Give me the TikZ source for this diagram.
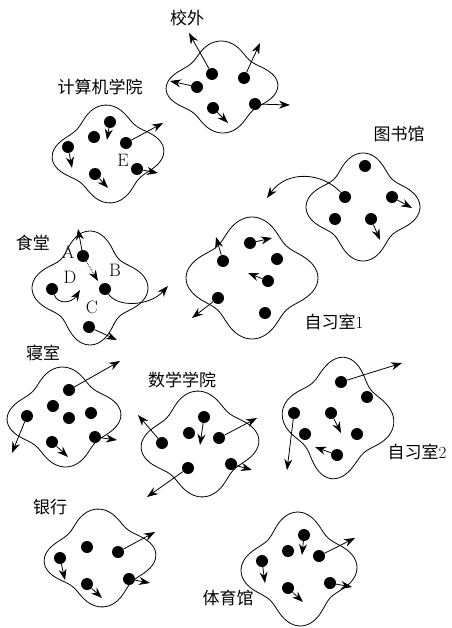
\documentclass[tikz,border=0pt]{standalone}
\usepackage{fontspec}
\newfontfamily\cjk{Noto Sans CJK SC}
\usetikzlibrary{arrows.meta}
% #1 cx, #2 cy, #3 half width, #4 half height, #5 rotation, #6 wave amplitude
\newcommand\myblob[6]{%
  \draw[blob,rotate around={#5:(#1,#2)}] plot[smooth cycle,domain=0:355,samples=72,variable=\t]
    ({#1+#3/(1+#6)*(1+#6*cos(4*\t))*cos(\t)},{#2+#4/(1+#6)*(1+#6*cos(4*\t))*sin(\t)});}
\begin{document}
\begin{tikzpicture}[x=1pt,y=-1pt,
  dot/.style={circle,fill=black,inner sep=0pt,minimum size=12pt},
  arr/.style={-{Stealth[length=11pt,width=8pt]},line width=0.8pt},
  blob/.style={line width=0.8pt},
  lab/.style={font=\cjk\fontsize{17}{17}\selectfont,inner sep=0pt},
  let/.style={font=\fontsize{18}{18}\selectfont,inner sep=0pt}]
\useasboundingbox (0,0) rectangle (451,628);

% ---------- blobs ----------
\myblob{222}{87}{56}{46}{2}{0.14}
\myblob{108}{154}{56}{49}{4}{0.14}
\myblob{363}{207}{57}{54}{0}{0.16}
\myblob{252}{278}{66}{61}{0}{0.15}
\myblob{90}{288}{58}{57}{0}{0.17}
\myblob{64}{417}{57}{50}{3}{0.14}
\myblob{200}{444}{59}{53}{4}{0.14}
\myblob{338}{418}{56}{61}{-6}{0.15}
\myblob{100}{558}{56}{49}{4}{0.14}
\myblob{299}{569}{58}{57}{2}{0.15}

% ---------- labels ----------
\node[lab] (lxw) at (187,18) {校外};
\node[lab] (ljs) at (100,87) {计算机学院};
\node[lab] (lts) at (399,134) {图书馆};
\node[lab] (lst) at (33,243) {食堂};
\node[lab] (lz1) at (334,322) {自习室\normalfont1};
\node[lab] (lqs) at (43,353) {寝室};
\node[lab] (lsx) at (182,380) {数学学院};
\node[lab] (lz2) at (417,452) {自习室\normalfont2};
\node[lab] (lyh) at (50,507) {银行};
\node[lab] (lty) at (228,598) {体育馆};
\node[let] (tA) at (68,252) {A};
\node[let] (tB) at (115,270) {B};
\node[let] (tC) at (92,307) {C};
\node[let] (tD) at (70,277) {D};
\node[let] (tE) at (123,160) {E};

% ---------- 校外 ----------
\node[dot] (x1) at (212,74) {}; \coordinate (x1e) at (189,33);
\node[dot] (x2) at (244,78) {}; \coordinate (x2e) at (260,43);
\node[dot] (x3) at (197,87) {}; \coordinate (x3e) at (170,81);
\node[dot] (x4) at (213,108) {}; \coordinate (x4e) at (228,123);
\node[dot] (x5) at (255,104) {}; \coordinate (x5e) at (290,105);
\foreach \n in {x1,x2,x3,x4,x5} \draw[arr] (\n) -- (\n e);

% ---------- 计算机学院 ----------
\node[dot] (j1) at (110,122) {}; \coordinate (j1e) at (107,140);
\node[dot] (j2) at (94,137) {};
\node[dot] (j3) at (126,143) {}; \coordinate (j3e) at (163,123);
\node[dot] (j4) at (68,147) {}; \coordinate (j4e) at (72,168);
\node[dot] (j5) at (137,169) {}; \coordinate (j5e) at (158,173);
\node[dot] (j6) at (95,174) {}; \coordinate (j6e) at (108,188);
\foreach \n in {j1,j3,j4,j5,j6} \draw[arr] (\n) -- (\n e);

% ---------- 图书馆 ----------
\node[dot] (t1) at (365,166) {};
\node[dot] (t2) at (345,197) {}; \coordinate (t2e) at (267,198);
\node[dot] (t3) at (392,197) {}; \coordinate (t3e) at (412,208);
\node[dot] (t4) at (335,219) {};
\node[dot] (t5) at (371,219) {}; \coordinate (t5e) at (380,240);
\draw[arr] (t2) .. controls (322,172) and (287,170) .. (t2e);
\draw[arr] (t3) -- (t3e);
\draw[arr] (t5) -- (t5e);

% ---------- 自习室1 ----------
\node[dot] (s1) at (250,243) {}; \coordinate (s1e) at (272,238);
\node[dot] (s2) at (223,261) {}; \coordinate (s2e) at (216,237);
\node[dot] (s3) at (277,259) {};
\node[dot] (s4) at (268,281) {}; \coordinate (s4e) at (248,273);
\node[dot] (s5) at (218,298) {}; \coordinate (s5e) at (192,318);
\node[dot] (s6) at (265,313) {};
\foreach \n in {s1,s2,s4,s5} \draw[arr] (\n) -- (\n e);

% ---------- 食堂 ----------
\node[dot] (A) at (83,256) {}; \coordinate (Ae) at (78,229); \coordinate (Ad) at (98,281);
\node[dot] (B) at (105,289) {}; \coordinate (Be) at (168,286);
\node[dot] (C) at (89,327) {}; \coordinate (Ce) at (117,340);
\node[dot] (D) at (52,289) {}; \coordinate (De) at (80,290);
\draw[arr] (A) -- (Ae);
\draw[arr,densely dotted] (A) -- (Ad);
\draw[arr] (B) .. controls (118,308) and (150,306) .. (Be);
\draw[arr] (C) -- (Ce);
\draw[arr] (D) .. controls (58,305) and (72,303) .. (De);

% ---------- 寝室 ----------
\node[dot] (q1) at (69,390) {}; \coordinate (q1e) at (120,361);
\node[dot] (q2) at (53,406) {};
\node[dot] (q3) at (27,416) {}; \coordinate (q3e) at (12,453);
\node[dot] (q4) at (69,418) {};
\node[dot] (q5) at (91,413) {};
\node[dot] (q6) at (52,442) {}; \coordinate (q6e) at (68,457);
\node[dot] (q7) at (95,437) {}; \coordinate (q7e) at (117,440);
\foreach \n in {q1,q3,q6,q7} \draw[arr] (\n) -- (\n e);

% ---------- 数学学院 ----------
\node[dot] (m1) at (162,443) {}; \coordinate (m1e) at (138,415);
\node[dot] (m2) at (189,433) {};
\node[dot] (m3) at (204,417) {}; \coordinate (m3e) at (200,445);
\node[dot] (m4) at (219,438) {}; \coordinate (m4e) at (257,418);
\node[dot] (m5) at (188,468) {}; \coordinate (m5e) at (147,497);
\node[dot] (m6) at (231,464) {}; \coordinate (m6e) at (252,470);
\foreach \n in {m1,m3,m4,m5,m6} \draw[arr] (\n) -- (\n e);

% ---------- 自习室2 ----------
\node[dot] (r1) at (341,382) {}; \coordinate (r1e) at (402,363);
\node[dot] (r2) at (367,397) {};
\node[dot] (r3) at (294,413) {}; \coordinate (r3e) at (287,470);
\node[dot] (r4) at (331,413) {}; \coordinate (r4e) at (341,433);
\node[dot] (r5) at (305,434) {};
\node[dot] (r6) at (357,434) {};
\node[dot] (r7) at (337,455) {}; \coordinate (r7e) at (315,447);
\foreach \n in {r1,r3,r4,r7} \draw[arr] (\n) -- (\n e);

% ---------- 银行 ----------
\node[dot] (y1) at (60,558) {}; \coordinate (y1e) at (65,580);
\node[dot] (y2) at (87,547) {};
\node[dot] (y3) at (118,552) {}; \coordinate (y3e) at (155,532);
\node[dot] (y4) at (87,584) {}; \coordinate (y4e) at (102,598);
\node[dot] (y5) at (129,579) {}; \coordinate (y5e) at (150,583);
\foreach \n in {y1,y3,y4,y5} \draw[arr] (\n) -- (\n e);

% ---------- 体育馆 ----------
\node[dot] (g1) at (304,535) {}; \coordinate (g1e) at (302,555);
\node[dot] (g2) at (288,551) {};
\node[dot] (g3) at (319,556) {}; \coordinate (g3e) at (355,538);
\node[dot] (g4) at (262,561) {}; \coordinate (g4e) at (265,583);
\node[dot] (g5) at (288,588) {}; \coordinate (g5e) at (303,602);
\node[dot] (g6) at (330,583) {}; \coordinate (g6e) at (352,587);
\foreach \n in {g1,g3,g4,g5,g6} \draw[arr] (\n) -- (\n e);
\end{tikzpicture}
\end{document}
